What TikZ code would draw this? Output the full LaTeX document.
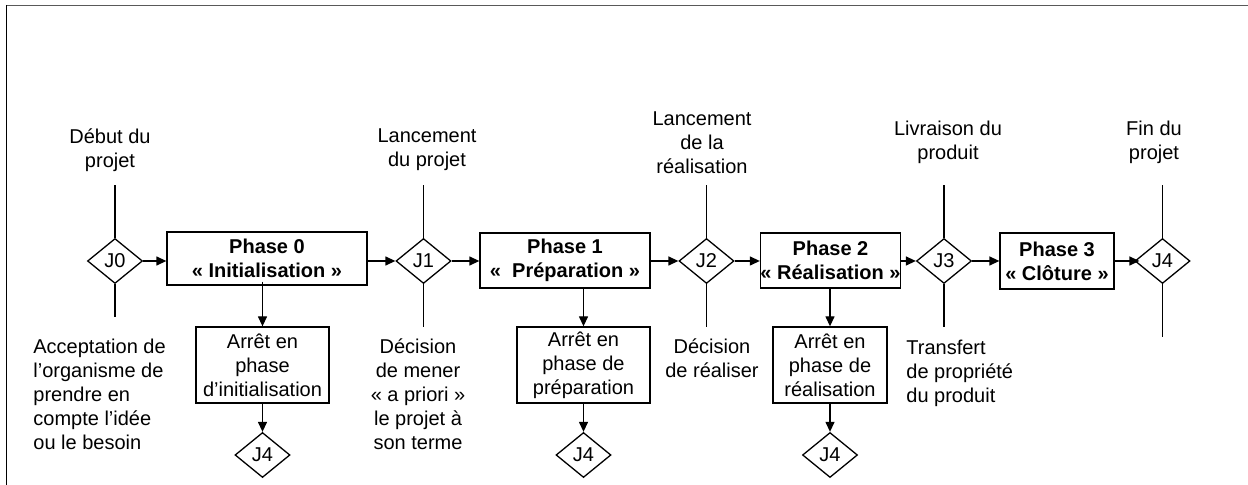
\documentclass[tikz,border=0pt]{standalone}
\usepackage{fontspec}
\setmainfont{Liberation Sans}
\usetikzlibrary{shapes.geometric,arrows.meta}
\begin{document}
\begin{tikzpicture}[x=0.5pt,y=-0.5pt,
  font=\fontsize{10}{12}\selectfont,
  jal/.style={diamond, draw, inner sep=0pt, minimum width=27.5pt, minimum height=22.5pt, line width=0.65pt},
  phasebox/.style={draw, line width=0.65pt, align=center, inner sep=0pt, font=\fontsize{10}{12}\selectfont\bfseries},
  stopbox/.style={draw, line width=0.65pt, align=center, inner sep=0pt, minimum height=38pt},
  lbl/.style={align=center, inner sep=0pt},
  lbll/.style={align=left, inner sep=0pt, anchor=west},
  arr/.style={-{Triangle[length=5pt,width=4.5pt]}, line width=0.65pt},
  tick/.style={line width=0.65pt}]
\useasboundingbox (0,0) rectangle (1248,485);
% frame
\draw[line width=0.8pt, black!65] (6,5.5) -- (1248,5.5);
\draw[line width=0.8pt] (6.5,5) -- (6.5,485);

% main row
\node[jal] (J0) at (115,261) {J0};
\node[phasebox, minimum width=100pt, minimum height=26.5pt] (P0) at (267,258.5) {Phase 0\\« Initialisation »};
\node[jal] (J1) at (423.5,261) {J1};
\node[phasebox, minimum width=85pt, minimum height=27.5pt] (P1) at (565,260.5) {Phase 1\\«~~Préparation~»};
\node[jal] (J2) at (706.5,261) {J2};
\node[phasebox, minimum width=67.5pt, minimum height=27.5pt] (P2) at (830.5,260.5) {Phase 2\\« Réalisation »};
\node[jal] (J3) at (944,261) {J3};
\node[phasebox, minimum width=57pt, minimum height=28pt] (P3) at (1057,261) {Phase 3\\« Clôture »};
\node[jal] (J4) at (1162.5,261) {J4};

% stop boxes
\node[stopbox, minimum width=66.5pt] (A0) at (262.5,365) {Arrêt en\\phase\\d’initialisation};
\node[stopbox, minimum width=66.5pt] (A1) at (583.5,365) {Arrêt en\\phase de\\préparation};
\node[stopbox, minimum width=57pt] (A2) at (830,365) {Arrêt en\\phase de\\réalisation};
\node[jal] (J4a) at (262.5,455) {J4};
\node[jal] (J4b) at (583.5,455) {J4};
\node[jal] (J4c) at (830,455) {J4};

% horizontal arrows
\draw[arr] (J0.east) -- (P0.west |- J0.east);
\draw[arr] (P0.east |- J1.west) -- (J1.west);
\draw[arr] (J1.east) -- (P1.west |- J1.east);
\draw[arr] (P1.east |- J2.west) -- (J2.west);
\draw[arr] (J2.east) -- (P2.west |- J2.east);
\draw[arr] (P2.east |- J3.west) -- (J3.west);
\draw[arr] (J3.east) -- (P3.west |- J3.east);
\draw[arr, shorten >=-2.5pt] (P3.east |- J4.west) -- (J4.west);

% vertical arrows
\draw[arr] ([yshift=2pt]A0.north |- P0.south) -- (A0.north);
\draw[arr] (A0.south) -- (J4a.north);
\draw[arr] (A1.north |- P1.south) -- (A1.north);
\draw[arr] (A1.south) -- (J4b.north);
\draw[arr] (A2.north |- P2.south) -- (A2.north);
\draw[arr] (A2.south) -- (J4c.north);

% milestone ticks
\draw[tick] (J0.north) -- ++(0,-53);
\draw[tick] (J0.south) -- ++(0,33);
\draw[tick] (J1.north) -- ++(0,-53);
\draw[tick] (J1.south) -- ++(0,43);
\draw[tick] (J2.north) -- ++(0,-53);
\draw[tick] (J2.south) -- ++(0,43);
\draw[tick] (J3.north) -- ++(0,-53);
\draw[tick] (J3.south) -- ++(0,43);
\draw[tick] (J4.north) -- ++(0,-53);
\draw[tick] (J4.south) -- ++(0,53);

% labels
\node[lbl] (t0) at (110,150) {Début du\\projet};
\node[lbll] (b0) at (33,394) {Acceptation de\\l’organisme de\\prendre en\\compte l’idée\\ou le besoin};
\node[lbl] (t1) at (427,150) {Lancement\\du projet};
\node[lbl] (b1) at (418,394) {Décision\\de mener\\« a priori »\\le projet à\\son terme};
\node[lbl] (t2) at (702,142.5) {Lancement\\de la\\réalisation};
\node[lbl] (b2) at (712,358) {Décision\\de réaliser};
\node[lbl] (t3) at (948,142) {Livraison du\\produit};
\node[lbll] (b3) at (906,373) {Transfert\\de propriété\\du produit};
\node[lbl] (t4) at (1154,142) {Fin du\\projet};
\end{tikzpicture}
\end{document}
